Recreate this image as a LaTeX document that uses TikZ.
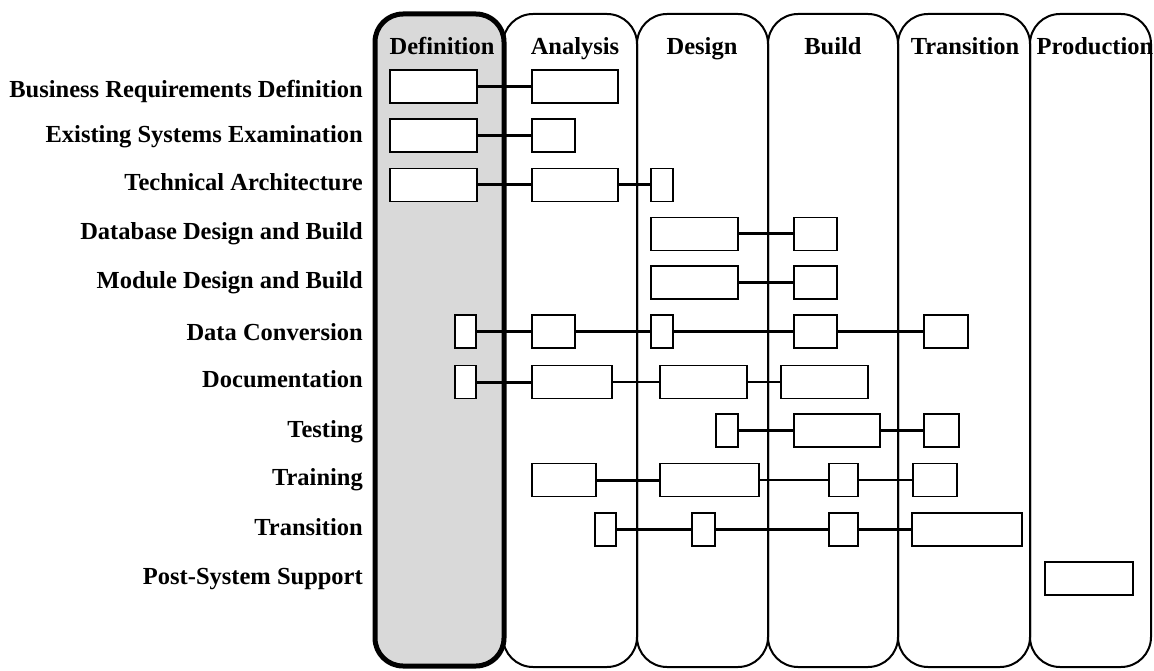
\documentclass[tikz,border=0pt]{standalone}
\usepackage{fontspec}
\setmainfont{Liberation Serif}
\usepackage{tikz}
\definecolor{gris}{RGB}{217, 217, 217}
\tikzset{
    task/.style={draw, rectangle, fill=white, line width=1.5pt, minimum height=33pt, inner sep=0pt},
    conn/.style={-, line width=3pt},
    connThin/.style={-, line width=1.2pt},
    phase/.style={draw, line width=2pt, rounded corners=30pt},
    phaseDef/.style={draw, fill=gris, line width=5pt, rounded corners=28pt},
    head/.style={font=\bfseries\fontsize{24.5}{28}\selectfont, anchor=base, inner sep=0pt},
    lbl/.style={font=\bfseries\fontsize{24.5}{28}\selectfont, anchor=base east, inner sep=0pt},
}
\begin{document}
\begin{tikzpicture}[x=1pt, y=-1pt]
    \useasboundingbox (0,0) rectangle (1154,671);

    % phases
    \draw[phase] (503,14) rectangle (637,667);
    \draw[phase] (637,14) rectangle (768,667);
    \draw[phase] (768,14) rectangle (898,667);
    \draw[phase] (898,14) rectangle (1030,667);
    \draw[phase] (1030,14) rectangle (1151,667);
    \draw[phaseDef] (375,14) rectangle (504,666);

    \node[head] (hDef) at (442,55) {Definition};
    \node[head] (hAna) at (575,55) {Analysis};
    \node[head] (hDes) at (702,55) {Design};
    \node[head] (hBld) at (833,55) {Build};
    \node[head] (hTrn) at (965,55) {Transition};
    \node[head] (hPrd) at (1095,55) {Production};

    % activities
    \node[lbl] (l1) at (363,97.5) {Business Requirements Definition};
    \node[lbl] (l2) at (363,142.7) {Existing Systems Examination};
    \node[lbl] (l3) at (363,191) {Technical Architecture};
    \node[lbl] (l4) at (363,239.3) {Database Design and Build};
    \node[lbl] (l5) at (363,288) {Module Design and Build};
    \node[lbl] (l6) at (363,340.7) {Data Conversion};
    \node[lbl] (l7) at (363,387.3) {Documentation};
    \node[lbl] (l8) at (363,437.3) {Testing};
    \node[lbl] (l9) at (363,485.7) {Training};
    \node[lbl] (l10) at (363,535) {Transition};
    \node[lbl] (l11) at (363,584) {Post-System Support};

    % tasks
    \node[task, minimum width=87pt] (r1a) at (433.5,86.5) {};
    \node[task, minimum width=86pt] (r1b) at (575,86.5) {};

    \node[task, minimum width=87pt] (r2a) at (433.5,135.5) {};
    \node[task, minimum width=43pt] (r2b) at (553.5,135.5) {};

    \node[task, minimum width=87pt] (r3a) at (433.5,185) {};
    \node[task, minimum width=86pt] (r3b) at (575,185) {};
    \node[task, minimum width=22pt] (r3c) at (662,185) {};

    \node[task, minimum width=87pt] (r4a) at (694.5,234) {};
    \node[task, minimum width=43pt] (r4b) at (815.5,234) {};

    \node[task, minimum width=87pt] (r5a) at (694.5,282.5) {};
    \node[task, minimum width=43pt] (r5b) at (815.5,282.5) {};

    \node[task, minimum width=21pt] (r6a) at (465.5,331.5) {};
    \node[task, minimum width=43pt] (r6b) at (553.5,331.5) {};
    \node[task, minimum width=22pt] (r6c) at (662,331.5) {};
    \node[task, minimum width=43pt] (r6d) at (815.5,331.5) {};
    \node[task, minimum width=44pt] (r6e) at (946,331.5) {};

    \node[task, minimum width=21pt] (r7a) at (465.5,382) {};
    \node[task, minimum width=80pt] (r7b) at (572,382) {};
    \node[task, minimum width=87pt] (r7c) at (703.5,382) {};
    \node[task, minimum width=87pt] (r7d) at (824.5,382) {};

    \node[task, minimum width=22pt] (r8a) at (727,430.5) {};
    \node[task, minimum width=86pt] (r8b) at (837,430.5) {};
    \node[task, minimum width=35pt] (r8c) at (941.5,430.5) {};

    \node[task, minimum width=64pt] (r9a) at (564,480) {};
    \node[task, minimum width=99pt] (r9b) at (709.5,480) {};
    \node[task, minimum width=29pt] (r9c) at (843.5,480) {};
    \node[task, minimum width=44pt] (r9d) at (935,480) {};

    \node[task, minimum width=21pt] (r10a) at (605.5,529.5) {};
    \node[task, minimum width=23pt] (r10b) at (703.5,529.5) {};
    \node[task, minimum width=29pt] (r10c) at (843.5,529.5) {};
    \node[task, minimum width=110pt] (r10d) at (967,529.5) {};

    \node[task, minimum width=88pt] (r11a) at (1089,578.5) {};

    % links
    \draw[conn] (r1a.east) -- (r1b.west);
    \draw[conn] (r2a.east) -- (r2b.west);
    \draw[conn] (r3a.east) -- (r3b.west);
    \draw[conn] (r3b.east) -- (r3c.west);
    \draw[conn] (r4a.east) -- (r4b.west);
    \draw[conn] (r5a.east) -- (r5b.west);

    \draw[conn] (r6a.east) -- (r6b.west);
    \draw[conn] (r6b.east) -- (r6c.west);
    \draw[conn] (r6c.east) -- (r6d.west);
    \draw[conn] (r6d.east) -- (r6e.west);

    \draw[conn] (r7a.east) -- (r7b.west);
    \draw[connThin] (r7b.east) -- (r7c.west);
    \draw[connThin] (r7c.east) -- (r7d.west);

    \draw[conn] (r8a.east) -- (r8b.west);
    \draw[conn] (r8b.east) -- (r8c.west);

    \draw[conn] (r9a.east) -- (r9b.west);
    \draw[connThin] (r9b.east) -- (r9c.west);
    \draw[connThin] (r9c.east) -- (r9d.west);

    \draw[conn] (r10a.east) -- (r10b.west);
    \draw[conn] (r10b.east) -- (r10c.west);
    \draw[conn] (r10c.east) -- (r10d.west);
\end{tikzpicture}
\end{document}
